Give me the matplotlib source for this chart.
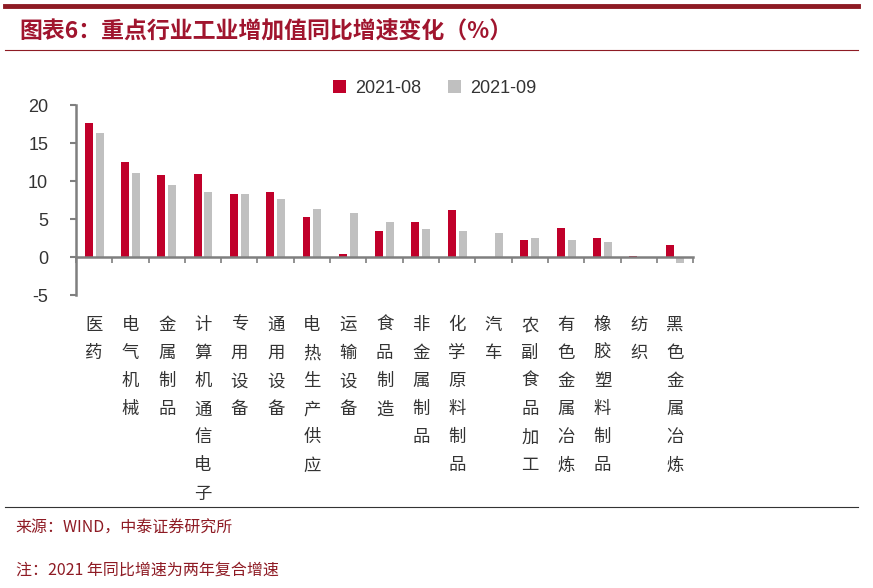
import matplotlib.pyplot as plt
import matplotlib.transforms as mtransforms
import numpy as np

plt.rcParams['font.family'] = ['Liberation Sans', 'Noto Sans CJK SC', 'DejaVu Sans']
plt.rcParams['axes.unicode_minus'] = False

categories = ['医药', '电气机械', '金属制品', '计算机通信电子', '专用设备', '通用设备',
              '电热生产供应', '运输设备', '食品制造', '非金属制品', '化学原料制品', '汽车',
              '农副食品加工', '有色金属冶炼', '橡胶塑料制品', '纺织', '黑色金属冶炼']
aug = [17.6, 12.5, 10.8, 10.9, 8.3, 8.6, 5.3, 0.4, 3.4, 4.6, 6.2, 0.0,
       2.2, 3.8, 2.5, 0.2, 1.6]
sep = [16.4, 11.1, 9.5, 8.6, 8.3, 7.6, 6.4, 5.8, 4.6, 3.7, 3.5, 3.2,
       2.5, 2.3, 2.0, 0.0, -0.7]
series_names = ['2021-08', '2021-09']
yticks = [-5, 0, 5, 10, 15, 20]

red = '#C0002A'
grey = '#C0C0C0'
axis_col = '#7F7F7F'
dark_red = '#8E1B24'

fig = plt.figure(figsize=(8.73, 5.88), dpi=100)

# header / footer decoration
fig.add_artist(plt.Line2D([0.006, 0.983], [0.989, 0.989], color=dark_red, lw=3.5))
fig.add_artist(plt.Line2D([0.006, 0.983], [0.915, 0.915], color=dark_red, lw=0.8))
fig.add_artist(plt.Line2D([0.006, 0.983], [0.138, 0.138], color='#333333', lw=0.8))
fig.text(0.022, 0.945, '图表6：重点行业工业增加值同比增速变化（%）', color='#A0152E',
         fontsize=16.5, fontweight='bold', family=['Noto Sans CJK SC'], va='center',
         style='italic')
fig.text(0.018, 0.101, '来源：WIND，中泰证券研究所', color=dark_red, fontsize=11.5,
         family=['Noto Sans CJK SC'], va='center')
fig.text(0.018, 0.030, '注：2021 年同比增速为两年复合增速', color=dark_red, fontsize=11.5,
         family=['Noto Sans CJK SC'], va='center')

ax = fig.add_axes([0.087, 0.498, 0.707, 0.323])
x = np.arange(len(categories))
w = 0.22
ax.bar(x - 0.15, aug, width=w, color=red, label=series_names[0])
ax.bar(x + 0.15, sep, width=w, color=grey, label=series_names[1])

ax.set_xlim(-0.5, len(categories) - 0.5)
ax.set_ylim(-5, 20)
ax.set_yticks(yticks)
ax.tick_params(axis='y', length=4, width=1.5, color=axis_col, pad=16,
               labelsize=13, labelcolor='#333333')
for lab in ax.get_yticklabels():
    lab.set_horizontalalignment('right')

ax.spines['top'].set_visible(False)
ax.spines['right'].set_visible(False)
ax.spines['left'].set_color(axis_col)
ax.spines['left'].set_linewidth(1.8)
ax.spines['bottom'].set_position(('data', 0))
ax.spines['bottom'].set_color(axis_col)
ax.spines['bottom'].set_linewidth(1.8)
ax.set_xticks(np.arange(-0.5, len(categories), 1.0))
ax.set_xticklabels([])
ax.tick_params(axis='x', direction='out', length=4, width=1.2, color=axis_col)

trans = mtransforms.blended_transform_factory(ax.transData, ax.transAxes)
for i, c in enumerate(categories):
    ax.text(i, -0.11, '\n'.join(c), transform=trans, ha='center', va='top',
            fontsize=12.5, color='#333333', family=['Noto Sans CJK SC'],
            linespacing=1.72)

fig.legend(loc='center', bbox_to_anchor=(0.498, 0.850), ncol=2, frameon=False,
           fontsize=13, handlelength=0.7, handleheight=0.7, handletextpad=0.5,
           columnspacing=1.5, labelcolor='#333333')

fig.savefig('out.png', dpi=100)
